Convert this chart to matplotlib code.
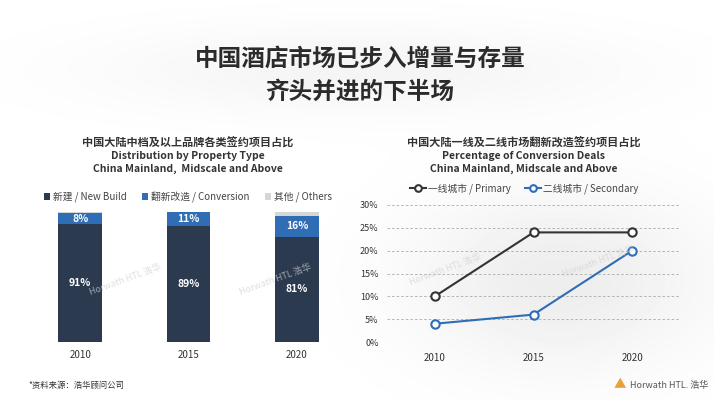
import matplotlib
matplotlib.use('Agg')
import matplotlib.pyplot as plt
import numpy as np

plt.rcParams['font.family'] = ['Noto Sans CJK SC', 'DejaVu Sans']

# data
years = ['2010', '2015', '2020']
new_build = [91, 89, 81]
conversion = [8, 11, 16]
others = [1, 0, 3]

primary = [10, 24, 24]
secondary = [4, 6, 20]

navy = '#2c3a50'
blue = '#2f6db5'
grey = '#d6d6d6'
dark = '#333333'

W, H = 714, 400
fig = plt.figure(figsize=(W / 100, H / 100), dpi=100)

def box(l, t, r, b):
    return [l / W, 1 - b / H, (r - l) / W, (b - t) / H]

# faint cloudy background
bg = fig.add_axes([0, 0, 1, 1])
yy, xx = np.mgrid[0:H, 0:W]
cloud = (np.exp(-(((xx - 560) / 150) ** 2 + ((yy - 280) / 90) ** 2))
         + 0.6 * np.exp(-(((xx - 360) / 260) ** 2 + ((yy - 70) / 45) ** 2)))
bg.imshow(1 - 0.07 * np.clip(cloud, 0, 1), cmap='gray', vmin=0, vmax=1,
          extent=[0, W, H, 0], aspect='auto')
bg.set_xlim(0, W)
bg.set_ylim(H, 0)
bg.axis('off')

# main title
fig.text(360 / W, 1 - 58 / H, '中国酒店市场已步入增量与存量', ha='center', va='center',
         fontsize=17, fontweight='bold', color='#2b2b2b')
fig.text(360 / W, 1 - 92 / H, '齐头并进的下半场', ha='center', va='center',
         fontsize=17, fontweight='bold', color='#2b2b2b')

# ---- left: stacked bars
ax1 = fig.add_axes(box(26, 212, 351, 342))
x = np.arange(len(years))
bw = 0.4
ax1.bar(x, new_build, bw, color=navy, label='新建 / New Build')
ax1.bar(x, conversion, bw, bottom=new_build, color=blue, label='翻新改造 / Conversion')
bot2 = [a + b for a, b in zip(new_build, conversion)]
ax1.bar(x, others, bw, bottom=bot2, color=grey, label='其他 / Others')
for i in range(len(years)):
    ax1.text(x[i], new_build[i] / 2, f'{new_build[i]}%', ha='center', va='center',
             color='white', fontsize=7.5, fontweight='bold')
    ax1.text(x[i], new_build[i] + conversion[i] / 2, f'{conversion[i]}%', ha='center',
             va='center', color='white', fontsize=7.5, fontweight='bold')
ax1.set_xlim(-0.5, 2.5)
ax1.set_ylim(0, 100)
ax1.set_xticks(x)
ax1.set_xticklabels(years, fontsize=7, color='#333333')
ax1.tick_params(length=0, pad=6)
ax1.set_yticks([])
for s in ax1.spines.values():
    s.set_visible(False)
ax1.patch.set_alpha(0)
ax1.legend(loc='center', bbox_to_anchor=(188 / W, 1 - 197 / H), bbox_transform=fig.transFigure,
           ncol=3, frameon=False, fontsize=7, handlelength=0.6, handleheight=0.6,
           handletextpad=0.3, columnspacing=1.6, labelcolor='#444444')

fig.text(188 / W, 1 - 143 / H, '中国大陆中档及以上品牌各类签约项目占比', ha='center', va='center',
         fontsize=8, fontweight='bold', color='#333333')
fig.text(188 / W, 1 - 156 / H, 'Distribution by Property Type', ha='center', va='center',
         fontsize=7.5, fontweight='bold', color='#333333')
fig.text(188 / W, 1 - 169 / H, 'China Mainland,  Midscale and Above', ha='center', va='center',
         fontsize=7.5, fontweight='bold', color='#333333')

# ---- right: lines
ax2 = fig.add_axes(box(387, 205, 680, 342))
ax2.plot(x, primary, color=dark, lw=1.5, marker='o', ms=6, mfc='white', mec=dark, mew=1.5,
         label='一线城市 / Primary')
ax2.plot(x, secondary, color=blue, lw=1.5, marker='o', ms=6, mfc='white', mec=blue, mew=1.5,
         label='二线城市 / Secondary')
ax2.set_xlim(-0.485, 2.485)
ax2.set_ylim(0, 30)
ax2.set_yticks([0, 5, 10, 15, 20, 25, 30])
ax2.set_yticklabels([f'{v}%' for v in [0, 5, 10, 15, 20, 25, 30]], fontsize=6.5, color='#333333')
ax2.set_xticks(x)
ax2.set_xticklabels(years, fontsize=7, color='#333333')
ax2.tick_params(length=0)
ax2.tick_params(axis='x', pad=8)
ax2.tick_params(axis='y', pad=6)
ax2.grid(axis='y', color='#aaaaaa', ls=(0, (3, 2.5)), lw=0.6)
ax2.set_axisbelow(True)
for s in ax2.spines.values():
    s.set_visible(False)
ax2.patch.set_alpha(0)
ax2.legend(loc='center', bbox_to_anchor=(524 / W, 1 - 189 / H), bbox_transform=fig.transFigure,
           ncol=2, frameon=False, fontsize=7, handlelength=1.6, handletextpad=0.2,
           columnspacing=1.5, labelcolor='#444444', markerscale=0.8)

fig.text(524 / W, 1 - 143 / H, '中国大陆一线及二线市场翻新改造签约项目占比', ha='center', va='center',
         fontsize=8, fontweight='bold', color='#333333')
fig.text(524 / W, 1 - 156 / H, 'Percentage of Conversion Deals', ha='center', va='center',
         fontsize=7.5, fontweight='bold', color='#333333')
fig.text(524 / W, 1 - 169 / H, 'China Mainland, Midscale and Above', ha='center', va='center',
         fontsize=7.5, fontweight='bold', color='#333333')

# watermarks
for wx, wy in [(125, 280), (275, 280), (445, 270), (598, 262)]:
    fig.text(wx / W, 1 - wy / H, 'Horwath HTL 浩华', ha='center', va='center', fontsize=6.5,
             color='#d2d2d2', rotation=20, alpha=0.7)

# footer
fig.text(28 / W, 1 - 385 / H, '*资料来源：浩华顾问公司', ha='left', va='center', fontsize=6,
         color='#333333')
fig.text(620 / W, 1 - 385 / H, '▲', ha='center', va='center', fontsize=9, color='#e8a13a')
fig.text(708 / W, 1 - 385 / H, 'Horwath HTL. 浩华', ha='right', va='center', fontsize=6.5,
         color='#555555')

fig.savefig('out.png', dpi=100)
